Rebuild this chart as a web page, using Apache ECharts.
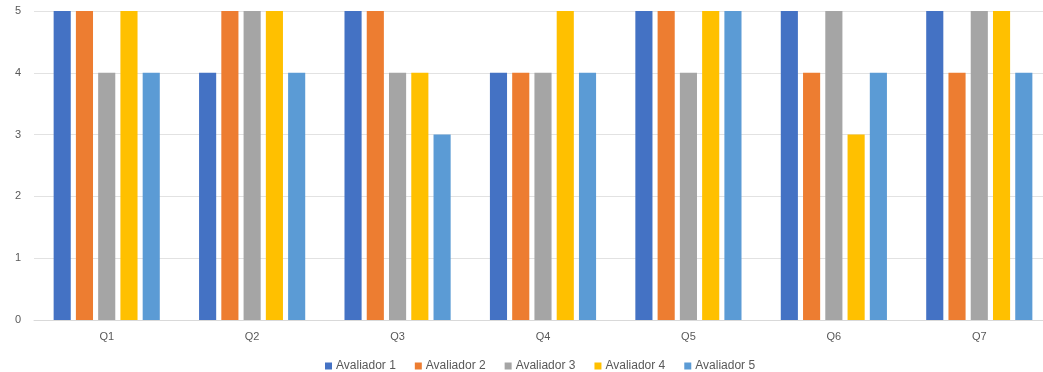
<!DOCTYPE html>
<html>
<head>
<meta charset="utf-8">
<style>
  html, body { margin: 0; padding: 0; background: #ffffff; }
  #chart { width: 1043px; height: 372px; }
</style>
<script src="https://cdn.jsdelivr.net/npm/echarts@6/dist/echarts.min.js"></script>
</head>
<body>
<div id="chart"></div>
<script>
// Questions on the category axis
const categories = ['Q1', 'Q2', 'Q3', 'Q4', 'Q5', 'Q6', 'Q7'];

// Scores given by each evaluator (scale 0–5)
const avaliador1 = [5, 4, 5, 4, 5, 5, 5];
const avaliador2 = [5, 5, 5, 4, 5, 4, 4];
const avaliador3 = [4, 5, 4, 4, 4, 5, 5];
const avaliador4 = [5, 5, 4, 5, 5, 3, 5];
const avaliador5 = [4, 4, 3, 4, 5, 4, 4];

const seriesNames = ['Avaliador 1', 'Avaliador 2', 'Avaliador 3', 'Avaliador 4', 'Avaliador 5'];
const seriesValues = [avaliador1, avaliador2, avaliador3, avaliador4, avaliador5];
const colors = ['#4472C4', '#ED7D31', '#A5A5A5', '#FFC000', '#5B9BD5'];

const chart = echarts.init(document.getElementById('chart'), null, { renderer: 'canvas' });

chart.setOption({
  animation: false,
  color: colors,
  textStyle: { fontFamily: 'Liberation Sans, Arial, sans-serif' },
  // plot area runs slightly past the right edge of the canvas
  grid: { left: 34, width: 1018, top: 11, bottom: 52, containLabel: false, outerBoundsMode: 'none' },
  legend: {
    top: 355,
    left: 320,
    itemWidth: 7,
    itemHeight: 7,
    itemGap: 19,
    icon: 'rect',
    textStyle: { color: '#595959', fontSize: 12, padding: [0, 0, 0, -1] },
    data: seriesNames
  },
  xAxis: {
    type: 'category',
    data: categories,
    axisTick: { show: false },
    axisLine: { lineStyle: { color: '#d9d9d9', width: 1 } },
    axisLabel: { color: '#595959', fontSize: 11, margin: 11 }
  },
  yAxis: {
    type: 'value',
    min: 0,
    max: 5,
    interval: 1,
    axisLine: { show: false },
    axisTick: { show: false },
    axisLabel: { color: '#595959', fontSize: 11, margin: 13 },
    splitLine: { lineStyle: { color: '#e2e2e2', width: 1 } }
  },
  series: seriesNames.map((name, i) => ({
    name: name,
    type: 'bar',
    data: seriesValues[i],
    barGap: '30%',
    barCategoryGap: '27%',
    itemStyle: { color: colors[i] }
  }))
});
</script>
</body>
</html>
